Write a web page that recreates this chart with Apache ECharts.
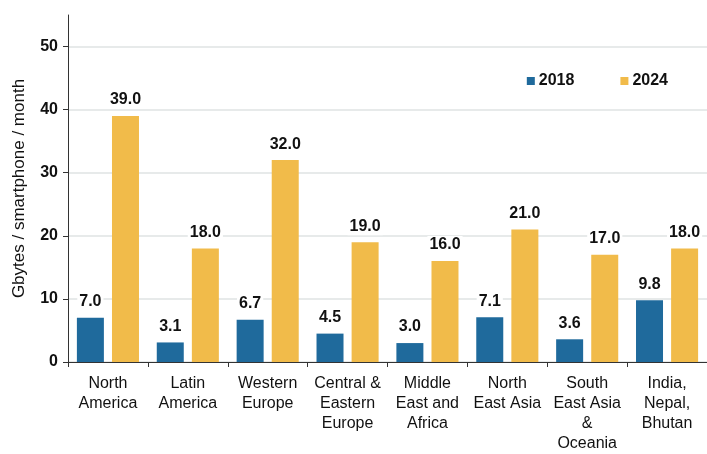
<!DOCTYPE html>
<html>
<head>
<meta charset="utf-8">
<script src="https://cdn.jsdelivr.net/npm/echarts@6/dist/echarts.min.js"></script>
<style>
  html, body { margin: 0; padding: 0; background: #fff; }
  #chart { width: 707px; height: 454px; }
</style>
</head>
<body>
<div id="chart"></div>
<script>
// Regions along the x axis
const regions = [
  'North\nAmerica',
  'Latin\nAmerica',
  'Western\nEurope',
  'Central &\nEastern\nEurope',
  'Middle\nEast and\nAfrica',
  'North\nEast Asia',
  'South\nEast Asia\n&\nOceania',
  'India,\nNepal,\nBhutan'
];
// Monthly data traffic per smartphone (GB)
const traffic2018 = [7.0, 3.1, 6.7, 4.5, 3.0, 7.1, 3.6, 9.8];
const traffic2024 = [39.0, 18.0, 32.0, 19.0, 16.0, 21.0, 17.0, 18.0];
const yTicks = [0, 10, 20, 30, 40, 50];

const FONT = '"Liberation Sans", Arial, sans-serif';
const BLUE = '#1f6a9c';
const GOLD = '#f1bb4a';

const valueLabel = {
  show: true,
  position: 'top',
  distance: 7,
  color: '#111',
  fontFamily: FONT,
  fontSize: 16,
  fontWeight: 'bold',
  backgroundColor: '#fff',
  padding: [1, 2],
  formatter: p => p.value.toFixed(1)
};

const chart = echarts.init(document.getElementById('chart'), null, { renderer: 'canvas' });
chart.setOption({
  animation: false,
  textStyle: { fontFamily: FONT },
  grid: { left: 68, right: -11, top: 15, bottom: 89, containLabel: false },
  legend: {
    right: 34,
    top: 68,
    icon: 'rect',
    itemWidth: 8,
    itemHeight: 8,
    itemGap: 46,
    textStyle: { fontFamily: FONT, fontSize: 16, fontWeight: 'bold', color: '#111', padding: [0, 0, 0, -1] },
    data: ['2018', '2024']
  },
  xAxis: {
    type: 'category',
    data: regions,
    axisLine: { lineStyle: { color: '#333', width: 1 } },
    axisTick: { show: true, interval: 0, length: 5, lineStyle: { color: '#333' } },
    axisLabel: {
      interval: 0,
      margin: 12,
      color: '#111',
      fontFamily: FONT,
      fontSize: 16,
      lineHeight: 20
    }
  },
  yAxis: {
    type: 'value',
    min: 0,
    max: 55,
    interval: 10,
    name: 'Gbytes / smartphone / month',
    nameLocation: 'middle',
    nameGap: 40,
    nameRotate: 90,
    nameTextStyle: { fontFamily: FONT, fontSize: 17, color: '#111' },
    axisLine: { show: true, lineStyle: { color: '#333', width: 1 } },
    axisTick: { show: true, length: 5, lineStyle: { color: '#333' }, customValues: yTicks },
    axisLabel: {
      customValues: yTicks,
      margin: 10,
      color: '#111',
      fontFamily: FONT,
      fontSize: 16,
      fontWeight: 'bold'
    },
    splitLine: {
      show: true,
      lineStyle: {
        color: ['#dfe3e3', '#dfe3e3', '#dfe3e3', '#dfe3e3', '#dfe3e3', '#dfe3e3', 'rgba(0,0,0,0)'],
        width: 1.5
      }
    }
  },
  series: [
    {
      name: '2018',
      type: 'bar',
      data: traffic2018,
      barWidth: 27,
      barGap: '30%',
      itemStyle: { color: BLUE },
      label: valueLabel
    },
    {
      name: '2024',
      type: 'bar',
      data: traffic2024,
      barWidth: 27,
      barGap: '30%',
      itemStyle: { color: GOLD },
      label: valueLabel
    }
  ]
});
</script>
</body>
</html>
